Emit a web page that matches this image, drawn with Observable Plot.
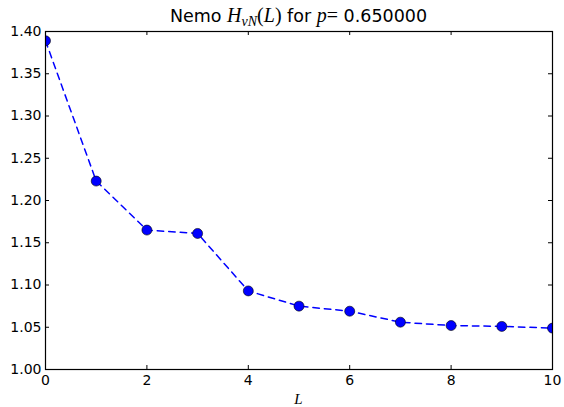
<!DOCTYPE html>
<html><head><meta charset="utf-8">
<script src="https://cdn.jsdelivr.net/npm/d3@7"></script>
<script src="https://cdn.jsdelivr.net/npm/@observablehq/plot@0.6"></script>
<style>body{margin:0;background:#fff}</style>
</head><body><div id="chart"></div>
<script>
const L = [0, 1, 2, 3, 4, 5, 6, 7, 8, 9, 10];
const H = [1.389, 1.223, 1.165, 1.161, 1.093, 1.075, 1.069, 1.056, 1.052, 1.051, 1.049];
const xTicks = [0, 2, 4, 6, 8, 10];
const yTicks = [1.00, 1.05, 1.10, 1.15, 1.20, 1.25, 1.30, 1.35, 1.40];
const data = L.map((l, i) => ({L: l, H: H[i]}));

const W = 564, Ht = 407, mL = 45, mR = 12, mT = 31, mB = 38;
const pw = W - mL - mR, ph = Ht - mT - mB, tk = 4;

const plot = Plot.plot({
  width: W, height: Ht, marginLeft: mL, marginRight: mR, marginTop: mT, marginBottom: mB,
  style: {fontFamily: "DejaVu Sans", fontSize: "14px", color: "black", background: "white", overflow: "visible"},
  x: {domain: [0, 10], label: null},
  y: {domain: [1.0, 1.4], label: null},
  marks: [
    Plot.axisX(xTicks, {tickSize: 0, tickPadding: 6, fontSize: 14, tickFormat: d => String(d), label: null}),
    Plot.axisY(yTicks, {tickSize: 0, tickPadding: 4, fontSize: 14, tickFormat: d => d.toFixed(2), label: null}),
    Plot.tickX(xTicks, {x: d => d, insetTop: ph - tk, stroke: "black", strokeWidth: 1}),
    Plot.tickX(xTicks, {x: d => d, insetBottom: ph - tk, stroke: "black", strokeWidth: 1}),
    Plot.tickY(yTicks, {y: d => d, insetRight: pw - tk, stroke: "black", strokeWidth: 1}),
    Plot.tickY(yTicks, {y: d => d, insetLeft: pw - tk, stroke: "black", strokeWidth: 1}),
    Plot.line(data, {x: "L", y: "H", stroke: "blue", strokeWidth: 1.5, strokeDasharray: "6.5,5", clip: true}),
    Plot.dot(data, {x: "L", y: "H", r: 5, fill: "blue", stroke: "black", strokeWidth: 0.6, clip: true}),
    Plot.frame({stroke: "black", strokeWidth: 1.2})
  ]
});
document.getElementById("chart").append(plot);

const svg = d3.select(plot);
const t = svg.append("text").attr("x", mL + pw / 2).attr("y", 22).attr("text-anchor", "middle")
  .attr("font-family", "DejaVu Sans").attr("font-size", 17.5).attr("fill", "black");
const mathF = "Liberation Serif", mf = 20;
t.append("tspan").text("Nemo ");
t.append("tspan").attr("font-family", mathF).attr("font-style", "italic").attr("font-size", mf).text("H");
t.append("tspan").attr("font-family", mathF).attr("font-style", "italic").attr("font-size", 14).attr("dy", 3.5).text("vN");
t.append("tspan").attr("font-family", mathF).attr("font-size", mf).attr("dy", -3.5).text("(");
t.append("tspan").attr("font-family", mathF).attr("font-style", "italic").attr("font-size", mf).text("L");
t.append("tspan").attr("font-family", mathF).attr("font-size", mf).text(")");
t.append("tspan").text(" for ");
t.append("tspan").attr("font-family", mathF).attr("font-style", "italic").attr("font-size", mf).text("p");
t.append("tspan").attr("font-family", mathF).attr("font-size", mf).text("=");
t.append("tspan").text(" 0.650000");

svg.append("text").attr("x", mL + pw / 2).attr("y", 404).attr("text-anchor", "middle")
  .attr("font-family", mathF).attr("font-style", "italic").attr("font-size", 15).attr("fill", "black").text("L");
</script></body></html>
